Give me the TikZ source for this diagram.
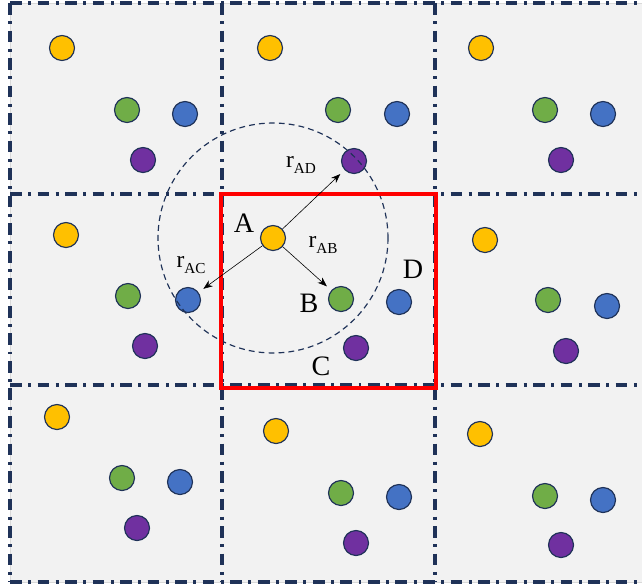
\documentclass[tikz,border=0pt]{standalone}
\usepackage{fontspec}
\setmainfont{Liberation Serif}
\usepackage{xcolor}
\definecolor{cellgray}{RGB}{242,242,242}
\definecolor{gridnavy}{RGB}{31,50,88}
\definecolor{dotyellow}{RGB}{255,192,0}
\definecolor{dotgreen}{RGB}{112,173,71}
\definecolor{dotblue}{RGB}{68,114,196}
\definecolor{dotpurple}{RGB}{112,48,160}
\usetikzlibrary{arrows.meta}

\tikzset{
  gridline/.style={draw=gridnavy, line width=2.6pt, dash pattern=on 10pt off 5.5pt on 2.5pt off 5.5pt},
  dot/.style={circle, draw=gridnavy, line width=1pt, minimum size=0.75cm, inner sep=0pt},
  ring/.style={draw=gridnavy, line width=1pt, dash pattern=on 5pt off 3.5pt},
  dist/.style={-{Stealth[length=8pt,width=6pt]}, black, line width=0.5pt, shorten >=5pt},
  lbl/.style={font=\fontsize{24}{28}\selectfont, inner sep=0pt},
  rlbl/.style={font=\fontsize{20}{24}\selectfont, inner sep=0pt}
}

\begin{document}
\begin{tikzpicture}[x=0.03cm, y=-0.03cm]
  \useasboundingbox (0,0) rectangle (642,585);

  % --- cells ---
  \fill[cellgray] (10,3) rectangle (648,582);
  \draw[gray!30, line width=0.6pt] (10,3) rectangle (648,582);
  \foreach \gy in {3,194,385,582}
    \draw[gridline] (10,\gy) -- (648,\gy);
  \foreach \gx in {10,222,435}
    \draw[gridline] (\gx,3) -- (\gx,582);

  % --- particles, one set per cell ---
  \foreach \n/\x/\y in {1/62/48, 2/270/48, 3/481/48, 4/66/235, 5/273/238, 6/485/240, 7/57/417, 8/276/431, 9/480/434}
    \node[dot, fill=dotyellow] (y\n) at (\x,\y) {};
  \foreach \n/\x/\y in {1/127/110, 2/338/110, 3/545/110, 4/128/296, 5/341/299, 6/548/300, 7/122/478, 8/341/493, 9/545/496}
    \node[dot, fill=dotgreen] (g\n) at (\x,\y) {};
  \foreach \n/\x/\y in {1/185/114, 2/397/114, 3/603/114, 4/188/300, 5/399/302, 6/607/306, 7/180/482, 8/399/497, 9/603/500}
    \node[dot, fill=dotblue] (b\n) at (\x,\y) {};
  \foreach \n/\x/\y in {1/143/160, 2/354/161, 3/561/160, 4/145/346, 5/356/348, 6/566/351, 7/137/528, 8/356/543, 9/561/545}
    \node[dot, fill=dotpurple] (p\n) at (\x,\y) {};

  % cutoff sphere round A
  \draw[ring] (y5.center) circle[radius=115];

  % central cell
  \draw[red, line width=3pt] (221,194) rectangle (436,388);

  % distances
  \draw[dist] (y5) -- (p2);
  \draw[dist] (y5) -- (g5);
  \draw[dist] (y5) -- (b4);

  % --- labels ---
  \node[lbl] (lblA) at (244,223) {A};
  \node[lbl] (lblB) at (309,303) {B};
  \node[lbl] (lblC) at (321,366) {C};
  \node[lbl] (lblD) at (413,269) {D};
  \node[rlbl] (lblAD) at (301,165) {r\raisebox{-4.5pt}{\fontsize{13}{15}\selectfont AD}};
  \node[rlbl] (lblAB) at (323,245) {r\raisebox{-4.5pt}{\fontsize{13}{15}\selectfont AB}};
  \node[rlbl] (lblAC) at (191,265) {r\raisebox{-4.5pt}{\fontsize{13}{15}\selectfont AC}};
\end{tikzpicture}
\end{document}
